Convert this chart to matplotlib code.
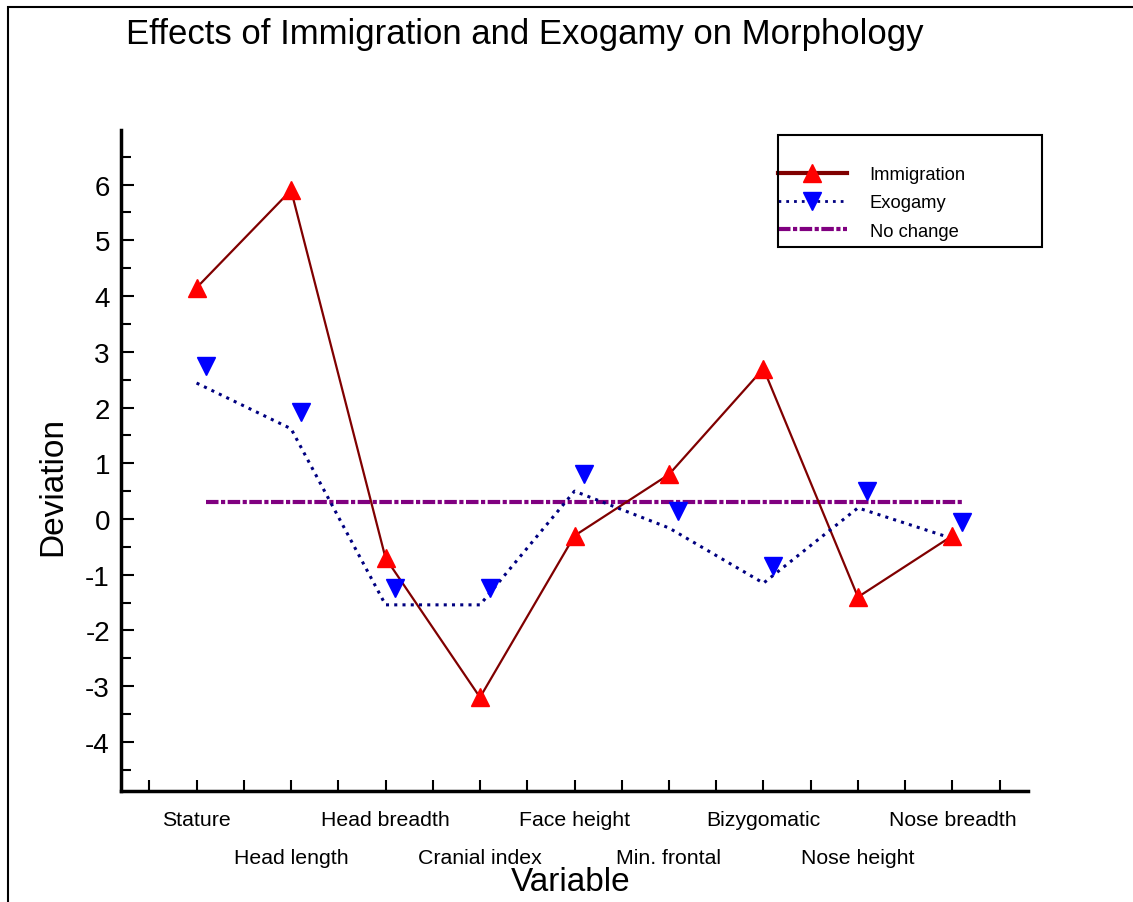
import matplotlib
matplotlib.use('Agg')
import matplotlib.pyplot as plt
from matplotlib.lines import Line2D
from matplotlib.patches import Rectangle
from matplotlib.transforms import ScaledTranslation
import numpy as np

plt.rcParams['font.family'] = ['Liberation Sans', 'DejaVu Sans']
plt.rcParams['axes.unicode_minus'] = False

# ---- data ----
variables = ["Stature", "Head length", "Head breadth", "Cranial index", "Face height",
             "Min. frontal", "Bizygomatic", "Nose height", "Nose breadth"]
immigration = [4.15, 5.9, -0.7, -3.2, -0.3, 0.8, 2.7, -1.4, -0.3]
exogamy = [2.44, 1.62, -1.54, -1.54, 0.5, -0.16, -1.15, 0.2, -0.35]
no_change = [0, 0, 0, 0, 0, 0, 0, 0, 0]
y_ticks = [-4, -3, -2, -1, 0, 1, 2, 3, 4, 5, 6]

title = "Effects of Immigration and Exogamy on Morphology"
xlabel = "Variable"
ylabel = "Deviation"

W, H = 1133, 903
fig = plt.figure(figsize=(W / 100, H / 100), dpi=100)

# figure border (left + top visible)
fig.add_artist(Rectangle((8 / W, -0.5), 2.0, 1.5 - 8 / H, transform=fig.transFigure,
                         fill=False, ec='black', lw=1.5, clip_on=False))

ax = fig.add_axes([121 / W, 1 - 792 / H, (1028 - 121) / W, (792 - 131) / H])
x = np.arange(len(variables))

# offset used by the software for exogamy markers and reference line
off = ScaledTranslation(0.095, 0.17, fig.dpi_scale_trans)

ax.plot(x, no_change, color='#800080', lw=3, dashes=(3, 0.6, 1, 0.6),
        transform=ax.transData + off, zorder=2)
ax.plot(x, immigration, color='#800000', lw=1.6, zorder=3)
ax.plot(x, immigration, ls='none', marker='^', ms=13, mfc='#ff0000', mec='#ff0000', zorder=4)
ax.plot(x, exogamy, color='#000080', lw=2.2, dashes=(1, 1.7), zorder=3)
ax.plot(x, exogamy, ls='none', marker='v', ms=13, mfc='#0000ff', mec='#0000ff',
        transform=ax.transData + off, zorder=4)

ax.set_xlim(-0.8, 8.8)
ax.set_ylim(-4.88, 6.98)

for s in ['top', 'right']:
    ax.spines[s].set_visible(False)
for s in ['left', 'bottom']:
    ax.spines[s].set_linewidth(2.5)

ax.set_yticks(y_ticks)
ax.set_yticklabels([str(v) for v in y_ticks])
ax.set_yticks(np.arange(-4.5, 7, 1.0), minor=True)
ax.tick_params(axis='y', which='major', direction='in', length=9, width=1.5,
               labelsize=20, pad=8)
ax.tick_params(axis='y', which='minor', direction='in', length=7, width=1.5)

ax.set_xticks(x)
ax.set_xticklabels(variables)
ax.set_xticks(np.arange(-0.5, 9, 1.0), minor=True)
ax.tick_params(axis='x', which='major', direction='in', length=8, width=1.5,
               labelsize=15.3, pad=14)
ax.tick_params(axis='x', which='minor', direction='in', length=8, width=1.5)
for i, t in enumerate(ax.xaxis.get_major_ticks()):
    if i % 2 == 1:
        t.set_pad(41)

ax.set_xlabel(xlabel, fontsize=24)
ax.xaxis.set_label_coords((571 - 121) / 907, (792 - 883) / 661)
ax.xaxis.label.set_verticalalignment('center')

ax.set_ylabel(ylabel, fontsize=24)
ax.yaxis.set_label_coords((53 - 121) / 907, (792 - 487) / 661)
ax.yaxis.label.set_verticalalignment('center')

fig.text(525 / W, 1 - 44 / H, title, ha='center', va='baseline', fontsize=25)

# legend
handles = [
    Line2D([], [], color='#800000', lw=3, marker='^', ms=13, mfc='#ff0000', mec='#ff0000'),
    Line2D([], [], color='#000080', lw=2, dashes=(1, 1.8), marker='v', ms=13,
           mfc='#0000ff', mec='#0000ff'),
    Line2D([], [], color='#800080', lw=3, dashes=(3, 0.6, 1, 0.6)),
]
leg = ax.legend(handles, ["Immigration", "Exogamy", "No change"],
                loc='upper left', bbox_to_anchor=(778 / W, 1 - 167 / H),
                bbox_transform=fig.transFigure, frameon=False, borderpad=0,
                borderaxespad=0, fontsize=13.2, handlelength=3.75, handletextpad=1.25,
                labelspacing=0.62, numpoints=1)
fig.add_artist(Rectangle((778 / W, 1 - 248 / H), 264 / W, 112 / H, transform=fig.transFigure,
                         fill=False, ec='black', lw=1.5))

fig.savefig('out.png', dpi=100)
